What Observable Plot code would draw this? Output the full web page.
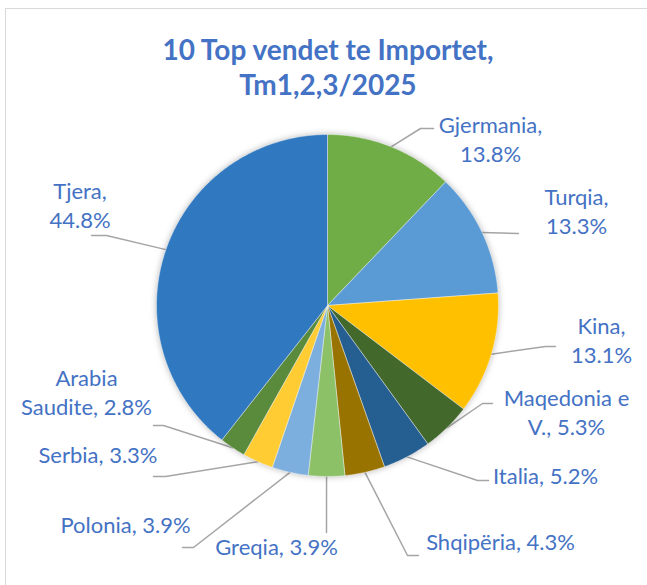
<!DOCTYPE html>
<html>
<head>
<meta charset="utf-8">
<script src="https://cdn.jsdelivr.net/npm/d3@7"></script>
<script src="https://cdn.jsdelivr.net/npm/@observablehq/plot@0.6"></script>
<style>
  html, body { margin: 0; padding: 0; background: #fff; }
  #wrap { position: relative; width: 647px; height: 585px; overflow: hidden; }
  #frame { position: absolute; left: 5px; top: 8px; width: 700px; height: 700px; border: 1.5px solid #D9D9D9; box-sizing: border-box; }
  #title { position: absolute; left: 0; width: 656px; top: 32px; margin: 0; text-align: center;
           font-family: Lato, sans-serif; font-weight: bold; font-size: 28px; line-height: 35px; color: #4472C4; }
  #chart { position: absolute; left: 0; top: 0; }
</style>
</head>
<body>
<div id="wrap">
  <div id="frame"></div>
  <div id="chart"></div>
  <h2 id="title">10 Top vendet te Importet,<br>Tm1,2,3/2025</h2>
</div>
<script>
// ---- data ----
const names = ["Gjermania", "Turqia", "Kina", "Maqedonia e V.", "Italia", "Shqipëria", "Greqia", "Polonia", "Serbia", "Arabia Saudite", "Tjera"];
const values = [13.8, 13.3, 13.1, 5.3, 5.2, 4.3, 3.9, 3.9, 3.3, 2.8, 44.8];
const labels = ["Gjermania,\n13.8%", "Turqia,\n13.3%", "Kina,\n13.1%", "Maqedonia e\nV., 5.3%", "Italia, 5.2%", "Shqipëria, 4.3%", "Greqia, 3.9%", "Polonia, 3.9%", "Serbia, 3.3%", "Arabia\nSaudite, 2.8%", "Tjera,\n44.8%"];
const colors = ["#70AD47", "#5B9BD5", "#FFC000", "#43682B", "#255E91", "#997300", "#8CC168", "#7CAFDD", "#FFCD33", "#5A8A3C", "#3079C0"];

// ---- layout ----
const cx = 327, cy = 305, r = 171;
const labelPos = [[490, 137.5], [576, 210], [601, 339], [566, 410.5], [545, 474], [500, 540], [276, 545], [125, 523], [97.5, 453], [86, 391], [79.5, 203.5]];
const leaderBends = [
  [[420, 128], [433, 128]],
  [[518, 233]],
  [[545, 346], [555, 346]],
  [[482, 403], [492, 403]],
  [[477, 480], [488, 480]],
  [[407, 555], [418, 555]],
  [[326, 532]],
  [[193, 547], [182, 547]],
  [[165, 476], [153, 476]],
  [[163, 425], [153, 425]],
  [[106, 235], [91, 235]]
];

const arcs = d3.pie().sort(null).value(d => d)(values);
const pt = (a, rr) => [cx + rr * Math.sin(a), cy - rr * Math.cos(a)];

const slicePts = [];
arcs.forEach((a, i) => {
  slicePts.push({name: names[i], x: cx, y: cy});
  const n = Math.max(2, Math.ceil((a.endAngle - a.startAngle) / (Math.PI / 360)));
  for (let k = 0; k <= n; k++) {
    const t = a.startAngle + (a.endAngle - a.startAngle) * k / n;
    const [x, y] = pt(t, r);
    slicePts.push({name: names[i], x, y});
  }
  slicePts.push({name: names[i], x: cx, y: cy});
});

const leaderPts = [];
arcs.forEach((a, i) => {
  const mid = (a.startAngle + a.endAngle) / 2;
  const [x0, y0] = pt(mid, r);
  leaderPts.push({id: "L" + i, x: x0, y: y0});
  leaderBends[i].forEach(([x, y]) => leaderPts.push({id: "L" + i, x, y}));
});

const labelData = labels.map((t, i) => ({text: t, x: labelPos[i][0], y: labelPos[i][1]}));

const chart = Plot.plot({
  width: 647,
  height: 585,
  margin: 0,
  x: {domain: [0, 647], range: [0, 647], axis: null},
  y: {domain: [0, 585], range: [0, 585], axis: null},
  color: {domain: names, range: colors},
  style: {fontFamily: "Lato, sans-serif", background: "transparent", overflow: "visible"},
  marks: [
    Plot.line(leaderPts, {x: "x", y: "y", z: "id", stroke: "#A5A5A5", strokeWidth: 1.5}),
    Plot.line(slicePts, {x: "x", y: "y", z: "name", fill: "name", stroke: "white", strokeWidth: 0.6, strokeOpacity: 0.7}),
    Plot.text(labelData, {x: "x", y: "y", text: "text", fill: "#4472C4", fontSize: 22, lineHeight: 1.32, textAnchor: "middle", lineAnchor: "middle"})
  ]
});
const lineGroups = chart.querySelectorAll('g[aria-label="line"]');
if (lineGroups.length > 1) lineGroups[1].style.filter = "drop-shadow(0px 0px 3px rgba(0,0,0,0.28))";
document.getElementById("chart").appendChild(chart);
</script>
</body>
</html>
